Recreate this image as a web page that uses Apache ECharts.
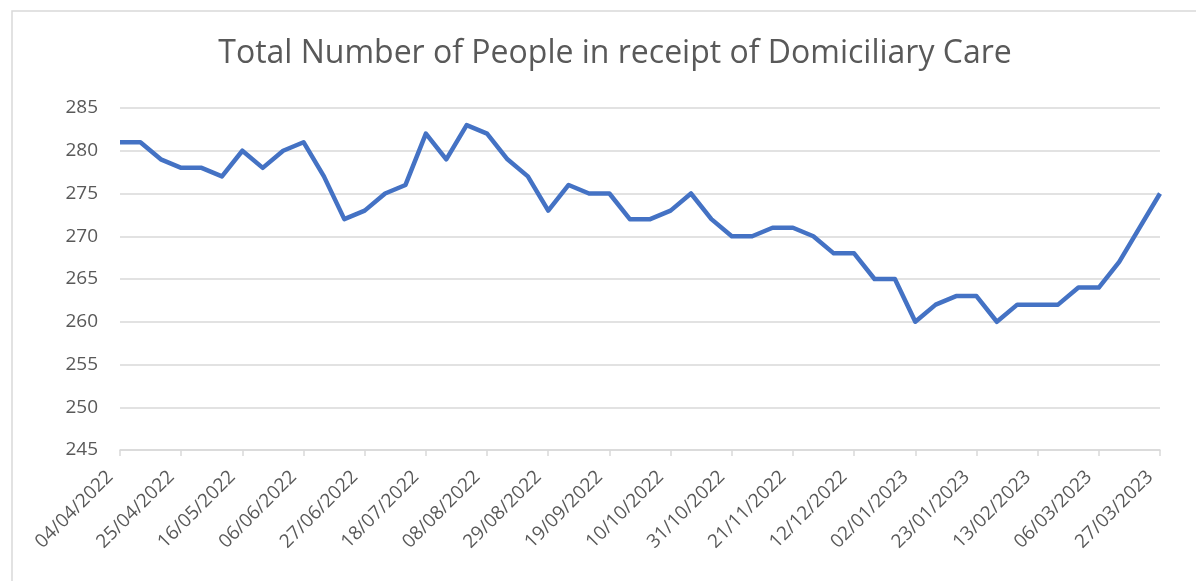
<!DOCTYPE html>
<html>
<head>
<meta charset="utf-8">
<script src="https://cdn.jsdelivr.net/npm/echarts@6/dist/echarts.min.js"></script>
<style>
  html, body { margin: 0; padding: 0; background: #fff; }
  #chart { width: 1196px; height: 581px; }
</style>
</head>
<body>
<div id="chart"></div>
<script>
// weekly dates (Mondays)
const weeks = [
  '04/04/2022','11/04/2022','18/04/2022','25/04/2022','02/05/2022','09/05/2022','16/05/2022',
  '23/05/2022','30/05/2022','06/06/2022','13/06/2022','20/06/2022','27/06/2022','04/07/2022',
  '11/07/2022','18/07/2022','25/07/2022','01/08/2022','08/08/2022','15/08/2022','22/08/2022',
  '29/08/2022','05/09/2022','12/09/2022','19/09/2022','26/09/2022','03/10/2022','10/10/2022',
  '17/10/2022','24/10/2022','31/10/2022','07/11/2022','14/11/2022','21/11/2022','28/11/2022',
  '05/12/2022','12/12/2022','19/12/2022','26/12/2022','02/01/2023','09/01/2023','16/01/2023',
  '23/01/2023','30/01/2023','06/02/2023','13/02/2023','20/02/2023','27/02/2023','06/03/2023',
  '13/03/2023','20/03/2023','27/03/2023'
];

const peopleInCare = [
  281, 281, 279, 278, 278, 277, 280, 278, 280, 281,
  277, 272, 273, 275, 276, 282, 279, 283, 282, 279,
  277, 273, 276, 275, 275, 272, 272, 273, 275, 272,
  270, 270, 271, 271, 270, 268, 268, 265, 265, 260,
  262, 263, 263, 260, 262, 262, 262, 264, 264, 267,
  271, 275
];

const yMin = 245;
const yMax = 285;
const yStep = 5;

const chart = echarts.init(document.getElementById('chart'));
chart.setOption({
  animation: false,
  textStyle: { fontFamily: 'Open Sans' },
  graphic: [{
    type: 'rect',
    shape: { x: 12, y: 11, width: 1300, height: 700 },
    style: { fill: 'none', stroke: '#d9d9d9', lineWidth: 1.5 },
    silent: true
  }],
  title: {
    text: 'Total Number of People in receipt of Domiciliary Care',
    left: 610,
    textAlign: 'center',
    top: 33,
    textStyle: { color: '#595959', fontSize: 32, fontWeight: 'normal', fontFamily: 'Open Sans' }
  },
  grid: {
    left: 120,
    right: 36,
    top: 108,
    bottom: 131
  },
  xAxis: {
    type: 'category',
    data: weeks,
    boundaryGap: false,
    axisLine: { lineStyle: { color: '#d9d9d9', width: 1.5 } },
    axisTick: { interval: 2, length: 6, lineStyle: { color: '#d9d9d9', width: 1.5 } },
    axisLabel: {
      interval: 2,
      rotate: 45,
      margin: 14,
      padding: [0, 14, 0, 0],
      color: '#595959',
      fontSize: 19,
      fontFamily: 'Open Sans'
    },
    splitLine: { show: false }
  },
  yAxis: {
    type: 'value',
    min: yMin,
    max: yMax,
    interval: yStep,
    axisLine: { show: false },
    axisTick: { show: false },
    axisLabel: { color: '#595959', fontSize: 19, margin: 22, fontFamily: 'Open Sans' },
    splitLine: { lineStyle: { color: '#d9d9d9', width: 1.5 } }
  },
  series: [{
    type: 'line',
    data: peopleInCare,
    showSymbol: false,
    symbol: 'none',
    lineStyle: { color: '#4472c4', width: 4.5, join: 'round' }
  }]
});
</script>
</body>
</html>
